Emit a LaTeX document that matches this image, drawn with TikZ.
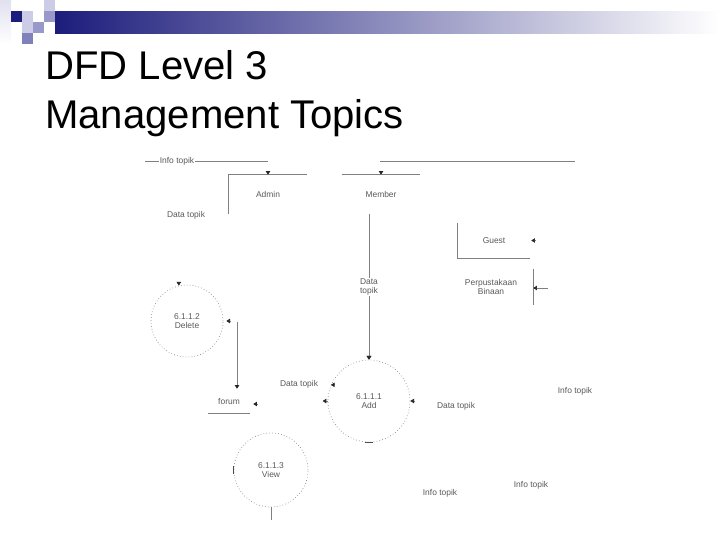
\documentclass[tikz,border=0pt]{standalone}
\usepackage{fontspec}
\setmainfont{Liberation Sans}
\usetikzlibrary{arrows.meta,calc}
\definecolor{navy}{RGB}{28,28,124}
\definecolor{lavA}{RGB}{204,204,230}
\definecolor{lavB}{RGB}{152,152,202}
\definecolor{lavC}{RGB}{128,128,186}

\begin{document}
\begin{tikzpicture}[
  x=0.025cm, y=-0.025cm,
  title/.style={anchor=base west, inner sep=0pt, font=\fontsize{28.5}{34}\selectfont},
  lbl/.style={inner sep=0.5pt, text=black!65, align=center, font=\fontsize{6}{6.6}\selectfont},
  store/.style={lbl, inner sep=0pt},
  proc/.style={circle, draw=black!45, dash pattern=on 0.5pt off 1.6pt, line width=0.5pt,
    inner sep=0pt, align=center, text=black!65, font=\fontsize{6}{6.6}\selectfont},
  flow/.style={draw=black!50, line width=0.5pt},
  arr/.style={flow, -{Triangle[length=2.6pt,width=3.2pt,color=black!85]}},
  tick/.style={draw=black!70, line width=0.7pt}
]
\useasboundingbox (0,0) rectangle (720,540);

% slide header
\shade[top color=lavA!60, bottom color=white] (0,0) rectangle (11,44);
\fill[navy] (11,11) rectangle (22,22);
\fill[lavA] (22,11) rectangle (33,22);
\fill[lavA] (44,0) rectangle (55,11);
\fill[lavB] (44,11) rectangle (55,22);
\fill[lavA] (22,22) rectangle (33,33);
\fill[lavB] (33,22) rectangle (44,33);
\fill[lavC] (22,33) rectangle (33,44);
\shade[left color=navy, right color=white] (55,11) rectangle (720,33);
\node[title] (t1) at (45,79) {DFD Level 3};
\node[title] (t2) at (45,128) {Management Topics};

% stores
\node[store, minimum width=1.95cm, minimum height=0.975cm] (adm) at (268,194.5) {Admin};
\node[store, minimum width=1.95cm, minimum height=0.975cm] (mem) at (381,194.5) {Member};
\node[store, minimum width=1.8cm, minimum height=0.875cm] (gst) at (494,240.5) {Guest};
\node[store, minimum width=1.05cm, minimum height=0.6cm] (forum) at (229,401) {forum};
\node[store, minimum width=2.1cm, minimum height=0.9cm] (pb) at (491,287) {Perpustakaan\\Binaan};

% processes
\node[proc, minimum size=1.8cm] (del) at (187,321) {6.1.1.2\\Delete};
\node[proc, minimum size=2.05cm] (add) at (369,401) {6.1.1.1\\Add};
\node[proc, minimum size=1.85cm] (vw) at (271,470) {6.1.1.3\\View};

% free labels
\node[lbl] (dt1) at (186,215) {Data topik};
\node[lbl] (dt2) at (299,384) {Data topik};
\node[lbl] (dt3) at (456,406) {Data topik};
\node[lbl] (it2) at (575,391) {Info topik};
\node[lbl] (it3) at (531,485) {Info topik};
\node[lbl] (it4) at (440,493) {Info topik};

\coordinate (it0) at (145,161);
\coordinate (it1) at (268,161);
\coordinate (ln0) at (380,161);
\coordinate (ln1) at (575,161);
\coordinate (dl) at (237,322);

% store borders
\draw[flow] (adm.south west) -- (adm.north west) -- (adm.north east);
\draw[flow] (mem.north west) -- (mem.north east);
\draw[flow] (gst.north west) -- (gst.south west) -- (gst.south east);
\draw[flow] (forum.south west) -- (forum.south east);
\draw[flow] (pb.north east) -- (pb.south east);

% flows
\draw[flow] (it0) -- node[lbl, fill=white, pos=0.26] {Info topik} (it1);
\draw[flow] (ln0) -- (ln1);
\draw[arr] ($(adm.north)+(0,-4)$) -- (adm.north);
\draw[arr] ($(mem.north)+(0,-4)$) -- (mem.north);
\draw[arr] (mem.south -| add.north) -- node[lbl, fill=white] {Data\\topik} (add.north);
\draw[arr] ($(gst.east)+(5,0)$) -- ($(gst.east)+(1,0)$);
\draw[arr] ($(pb.east)+(15,1)$) -- ($(pb.east)+(0,1)$);
\draw[arr] ($(del.103)+(0,-4)$) -- (del.103);
\draw[arr] ($(del.east)+(8,0)$) -- ($(del.east)+(3,0)$);
\draw[arr] (dl) -- (dl |- forum.north);
\draw[arr] ($(forum.east)+(8,3)$) -- ($(forum.east)+(3,3)$);
\draw[arr] ($(add.north)+(0,-4)$) -- (add.north);
\draw[arr] ($(add.157)+(4,0)$) -- (add.157);
\draw[arr] (add.west) -- ($(add.west)+(-5,0)$);
\draw[arr] ($(add.east)+(5,0)$) -- (add.east);
\draw[tick] ($(add.south)+(-4,0)$) -- ($(add.south)+(4,0)$);
\draw[tick] ($(vw.west)+(0,-4)$) -- ($(vw.west)+(0,4)$);
\draw[flow] (vw.south) -- ++(0,13);
\end{tikzpicture}
\end{document}
